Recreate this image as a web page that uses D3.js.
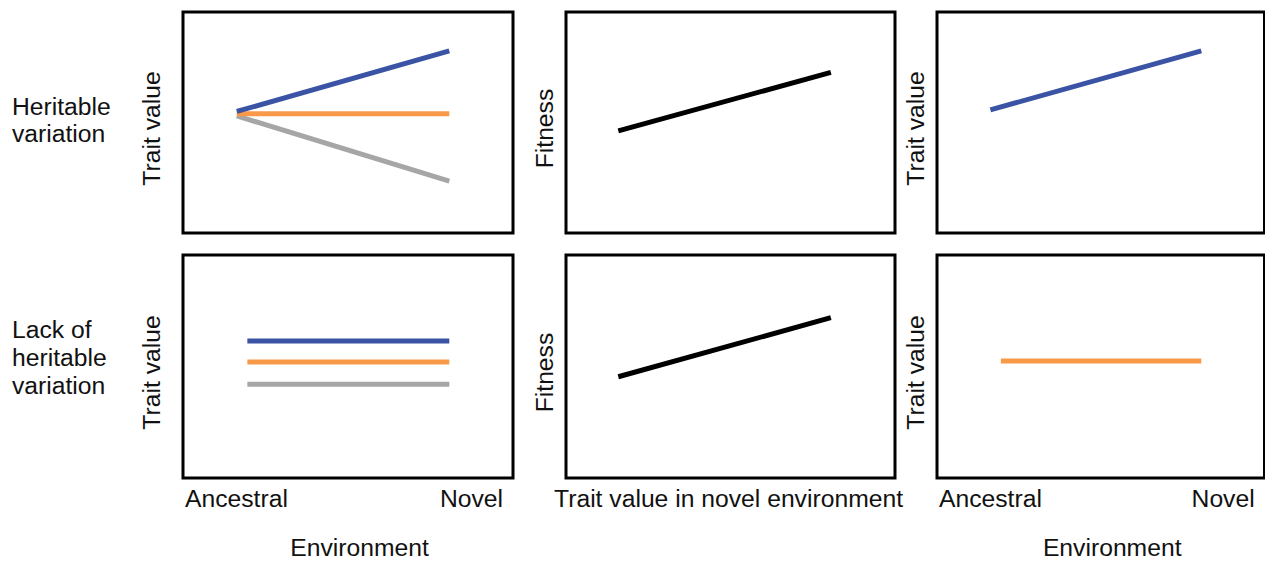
<!DOCTYPE html>
<html>
<head>
<meta charset="utf-8">
<script src="https://cdn.jsdelivr.net/npm/d3@7"></script>
<style>
  html, body { margin: 0; padding: 0; background: #fff; }
  svg { display: block; }
  text { font-family: "Liberation Sans", Arial, Helvetica, sans-serif; fill: #111; }
</style>
</head>
<body>
<svg id="chart" width="1265" height="562"></svg>
<script>
// ---------- data ----------
const rowLabels = [["Heritable", "variation"], ["Lack of", "heritable", "variation"]];
const envCategories = ["Ancestral", "Novel"];
const xAxisTitles = ["Environment", "Trait value in novel environment", "Environment"];
const yAxisTitles = ["Trait value", "Fitness", "Trait value"];

// x values (0..1 along the panel) of each line's two endpoints
const envXTop = [0.163, 0.807];
const envXBottom = [0.195, 0.807];
const fitnessX = [0.159, 0.805];

// y values (0..1 up the panel)
const heritableBlue = [0.550, 0.824];
const heritableOrange = [0.540, 0.540];
const heritableGray = [0.530, 0.235];
const lackBlue = [0.614, 0.614];
const lackOrange = [0.520, 0.520];
const lackGray = [0.420, 0.420];
const fitnessTop = [0.462, 0.727];
const fitnessBottom = [0.454, 0.719];
const selectedTop = [0.557, 0.824];
const selectedBottom = [0.525, 0.525];

const seriesColors = { blue: "#3b53a4", orange: "#f89a48", gray: "#a6a6a6", black: "#000000" };

// ---------- layout ----------
const colX = [[183, 513], [566, 895], [937, 1264.5]];
const rowY = [[12, 233], [255, 478]];
const yTitleBaseline = [160, 553, 923.5];

const panels = [
  // row 0
  { r: 0, c: 0, lines: [
      { x: envXTop, y: heritableGray, color: "gray" },
      { x: envXTop, y: heritableOrange, color: "orange" },
      { x: envXTop, y: heritableBlue, color: "blue" } ] },
  { r: 0, c: 1, lines: [ { x: fitnessX, y: fitnessTop, color: "black" } ] },
  { r: 0, c: 2, lines: [ { x: envXTop, y: selectedTop, color: "blue" } ] },
  // row 1
  { r: 1, c: 0, lines: [
      { x: envXBottom, y: lackGray, color: "gray" },
      { x: envXBottom, y: lackOrange, color: "orange" },
      { x: envXBottom, y: lackBlue, color: "blue" } ] },
  { r: 1, c: 1, lines: [ { x: fitnessX, y: fitnessBottom, color: "black" } ] },
  { r: 1, c: 2, lines: [ { x: envXBottom, y: selectedBottom, color: "orange" } ] }
];

const svg = d3.select("#chart");
const fontSize = 24.7;

panels.forEach(p => {
  const x = d3.scaleLinear().domain([0, 1]).range(colX[p.c]);
  const y = d3.scaleLinear().domain([0, 1]).range([rowY[p.r][1], rowY[p.r][0]]);
  const g = svg.append("g");

  const line = d3.line().x(d => x(d[0])).y(d => y(d[1]));
  p.lines.forEach(l => {
    g.append("path")
      .attr("d", line(d3.zip(l.x, l.y)))
      .attr("fill", "none")
      .attr("stroke", seriesColors[l.color])
      .attr("stroke-width", 5);
  });

  g.append("rect")
    .attr("x", x(0)).attr("y", y(1))
    .attr("width", x(1) - x(0)).attr("height", y(0) - y(1))
    .attr("fill", "none").attr("stroke", "#000").attr("stroke-width", 3);

  // y title (rotated)
  const cy = (y(0) + y(1)) / 2 + 6;
  g.append("text")
    .attr("transform", `translate(${yTitleBaseline[p.c]},${cy}) rotate(-90)`)
    .attr("text-anchor", "middle")
    .attr("font-size", fontSize)
    .text(yAxisTitles[p.c]);
});

// bottom labels
const tickBaseline = 507;
[0, 2].forEach(c => {
  const x = d3.scaleLinear().domain([0, 1]).range(colX[c]);
  svg.append("text").attr("x", x(0) + 2).attr("y", tickBaseline)
    .attr("font-size", fontSize).attr("text-anchor", "start").text(envCategories[0]);
  svg.append("text").attr("x", x(0.97)).attr("y", tickBaseline)
    .attr("font-size", fontSize).attr("text-anchor", "end").text(envCategories[1]);
  svg.append("text").attr("x", x(0.535)).attr("y", 556)
    .attr("font-size", fontSize).attr("text-anchor", "middle").text(xAxisTitles[c]);
});
{
  const x = d3.scaleLinear().domain([0, 1]).range(colX[1]);
  svg.append("text").attr("x", x(0.494)).attr("y", tickBaseline)
    .attr("font-size", fontSize).attr("text-anchor", "middle").text(xAxisTitles[1]);
}

// row labels
const rowBaselines = [[115, 142], [338, 366, 394]];
rowLabels.forEach((lines, r) => {
  lines.forEach((t, i) => {
    svg.append("text").attr("x", 12).attr("y", rowBaselines[r][i])
      .attr("font-size", fontSize).text(t);
  });
});
</script>
</body>
</html>
